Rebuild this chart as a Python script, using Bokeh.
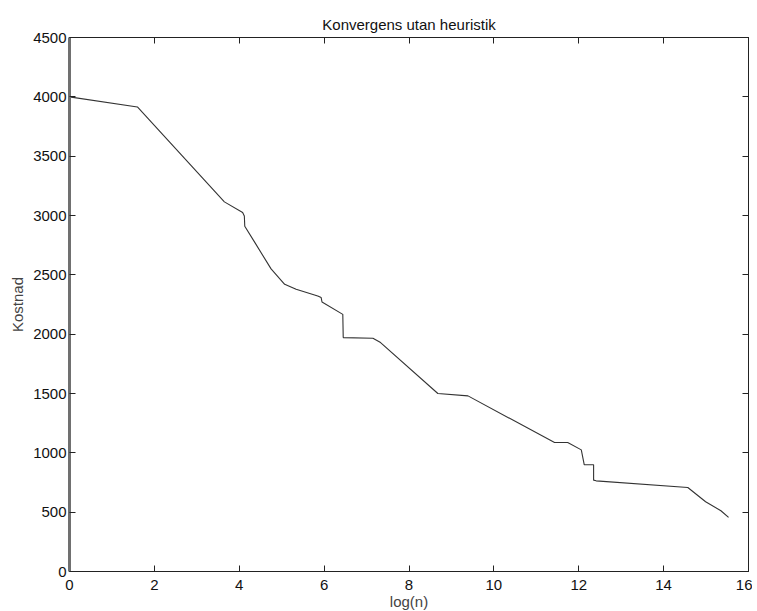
from bokeh.plotting import figure
from bokeh.models import Range1d, LinearAxis, FixedTicker, CustomLabelingPolicy
from bokeh.embed import file_html
from bokeh.resources import INLINE

# Data (x = log(n), y = Kostnad)
log_n = [0, 0, 0, 1.60, 3.65, 4.08, 4.12, 4.13, 4.75, 5.07, 5.34, 5.85, 5.93, 5.95,
         6.44, 6.45, 7.15, 7.33, 8.68, 9.39, 11.43, 11.74, 12.06, 12.13, 12.35,
         12.35, 12.41, 14.57, 14.99, 15.35, 15.53]
kostnad = [0, 4500, 4000, 3915, 3115, 3025, 2995, 2910, 2550, 2420, 2378, 2322, 2308, 2271,
           2167, 1971, 1965, 1929, 1500, 1480, 1087, 1087, 1025, 899, 899,
           770, 764, 708, 588, 512, 456]

x_ticks = [0, 2, 4, 6, 8, 10, 12, 14, 16]
y_ticks = [0, 500, 1000, 1500, 2000, 2500, 3000, 3500, 4000, 4500]

FONT = "Liberation Sans"
FS = "15px"

p = figure(frame_width=679, frame_height=534,
           x_range=Range1d(0, 16), y_range=Range1d(0, 4500),
           output_backend="svg", toolbar_location=None,
           min_border_left=69, min_border_top=37, min_border_right=4, min_border_bottom=30,
           title="Konvergens utan heuristik")

p.background_fill_color = "white"
p.border_fill_color = "white"
p.outline_line_color = "#222222"
p.outline_line_width = 1
p.xgrid.visible = False
p.ygrid.visible = False

p.title.align = "center"
p.title.text_font = FONT
p.title.text_font_size = FS
p.title.text_font_style = "normal"
p.title.text_color = "#111111"
p.title.standoff = 9

hide_all = CustomLabelingPolicy(code="""
try { for (let i = 0; i < indices.size; i++) { indices.unset(i) } } catch (e) {}
return indices
""")

def style_axis(ax, ticks, show_labels=True):
    ax.ticker = FixedTicker(ticks=ticks)
    ax.axis_line_color = "#222222"
    ax.axis_line_width = 1
    ax.major_tick_in = 6
    ax.major_tick_out = 0
    ax.major_tick_line_color = "#222222"
    ax.minor_tick_line_color = None
    ax.major_label_text_font = FONT
    ax.major_label_text_color = "#111111"
    if show_labels:
        ax.major_label_text_font_size = FS
    else:
        ax.major_label_text_font_size = "0px"
        ax.major_label_standoff = 0
        ax.major_label_policy = hide_all

xa = p.xaxis[0]
style_axis(xa, x_ticks)
xa.major_label_standoff = 8
xa.axis_label = "log(n)"
xa.axis_label_text_font = FONT
xa.axis_label_text_font_size = FS
xa.axis_label_text_font_style = "normal"
xa.axis_label_standoff = 0

ya = p.yaxis[0]
style_axis(ya, y_ticks)
ya.axis_line_color = "#707070"
ya.axis_line_width = 3
ya.major_label_standoff = 3
ya.axis_label = "Kostnad"
ya.axis_label_text_font = FONT
ya.axis_label_text_font_size = FS
ya.axis_label_text_font_style = "normal"
ya.axis_label_standoff = 4

top = LinearAxis()
style_axis(top, x_ticks, show_labels=False)
p.add_layout(top, "above")
right = LinearAxis()
style_axis(right, y_ticks, show_labels=False)
p.add_layout(right, "right")

p.line(log_n, kostnad, line_color="#333333", line_width=1.1)

open("out.html", "w").write(file_html(p, INLINE))
